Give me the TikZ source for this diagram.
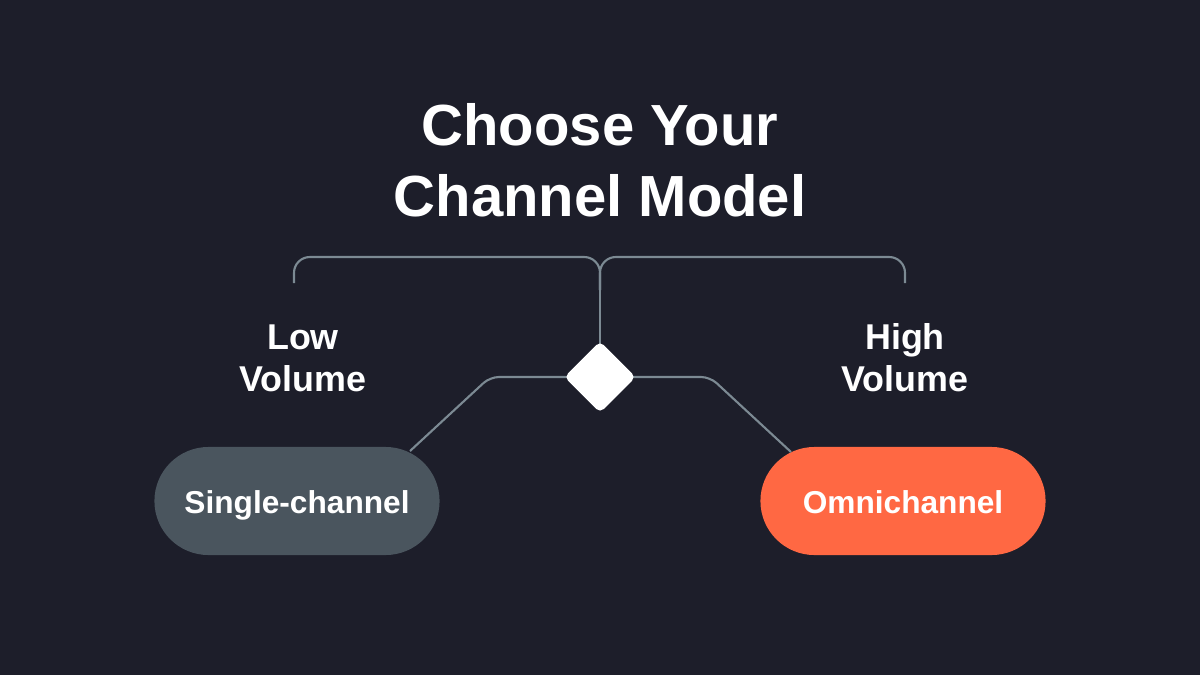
\documentclass[tikz,border=0pt]{standalone}
\usepackage{fontspec}
\setmainfont{Liberation Sans}
\usetikzlibrary{shapes.geometric}
\definecolor{bg}{HTML}{1D1E2A}
\definecolor{linec}{HTML}{7C8A93}
\definecolor{greypill}{HTML}{4A555E}
\definecolor{coral}{HTML}{FF6843}
\tikzset{
  conn/.style={draw=linec, line width=0.6pt, rounded corners=2.5pt},
  pill/.style={rectangle, rounded corners=0.54cm, minimum width=2.85cm, minimum height=1.08cm, inner sep=0pt, text height=1.9ex, text depth=0.6ex, text=white, font=\bfseries\fontsize{9}{11}\selectfont},
  lbl/.style={text=white, align=center, font=\bfseries\fontsize{10.2}{12}\selectfont},
}
\begin{document}
\begin{tikzpicture}[x=0.01cm,y=-0.01cm]
\fill[bg] (0,0) rectangle (1200,675);
\useasboundingbox (0,0) rectangle (1200,675);
\node[text=white, align=center, font=\bfseries\fontsize{16.5}{20.2}\selectfont] (title) at (600,160) {Choose Your\\Channel Model};
\node[pill, fill=greypill] (sc) at (297,501) {Single-channel};
\node[pill, fill=coral] (oc) at (903,501) {Omnichannel};
\node[lbl] (low) at (303,358) {Low\\Volume};
\node[lbl] (high) at (905,358) {High\\Volume};
\coordinate (bl) at (294,283);
\coordinate (br) at (905,283);
\coordinate (stem) at (600,290);
\coordinate (dc) at (600,377);
\coordinate (scend) at (410,451);
\coordinate (ocend) at (791,452);
% bracket
\draw[conn, rounded corners=4.5pt] (bl) -- (294,257) -- (600,257) -- (stem);
\draw[conn, rounded corners=4.5pt] (br) -- (905,257) -- (600,257) -- (stem);
\draw[conn] (stem) -- (dc);
% connectors
\draw[conn] (dc) -- (490,377) -- (scend);
\draw[conn] (dc) -- (710,377) -- (ocend);
\node[diamond, fill=white, minimum width=0.72cm, minimum height=0.72cm, inner sep=0pt, rounded corners=1.5pt] (d) at (dc) {};
\end{tikzpicture}
\end{document}
